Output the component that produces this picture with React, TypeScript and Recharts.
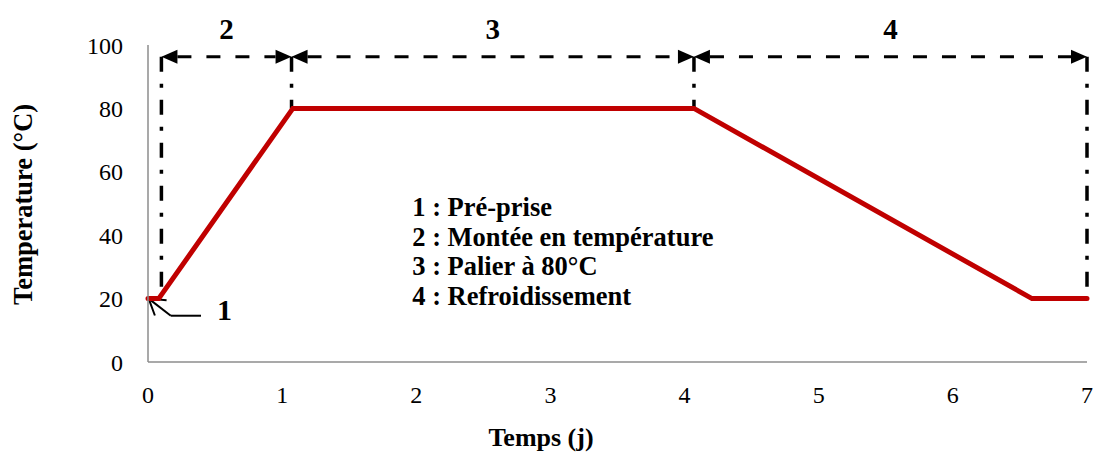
import React from 'react'
import {
  LineChart,
  Line,
  XAxis,
  YAxis,
  ReferenceLine,
  ReferenceDot,
} from 'recharts'

// temperature profile (jours, °C)
const tempsJ = [0, 0.08, 1.08, 4.07, 6.59, 7]
const temperature = [20, 20, 80, 80, 20, 20]

const xTicks = [0, 1, 2, 3, 4, 5, 6, 7]
const yTicks = [0, 20, 40, 60, 80, 100]

// phase limits and the dimension arrows above them
const phaseBounds = [0.1, 1.07, 4.07, 7]
const phaseBottoms = [20, 80, 80, 20]
const phaseLabels = ['2', '3', '4']
const arrowLevel = 96.3

// arrow pointing at the "pré-prise" point
const preTip = { x: 0.005, y: 20 }
const preBend = { x: 0.17, y: 14.6 }
const preTail = { x: 0.395, y: 14.6 }
const preLabel = '1'

const legendLines = [
  '1 : Pré-prise',
  '2 : Montée en température',
  '3 : Palier à 80°C',
  '4 : Refroidissement',
]

const data = tempsJ.map((x, i) => ({ x, temp: temperature[i] }))

const FONT = '"Liberation Serif", "Times New Roman", serif'
const RED = '#C00000'

const dimensionArrow = (label: string) => (p: any) => {
  const { x1, y1, x2 } = p
  const head = 16
  const half = 7
  return (
    <g>
      <line
        x1={x1 + head}
        y1={y1}
        x2={x2 - head}
        y2={y1}
        stroke="#000"
        strokeWidth={3}
        strokeDasharray="14 15"
      />
      <polygon points={`${x1},${y1} ${x1 + head},${y1 - half} ${x1 + head},${y1 + half}`} fill="#000" />
      <polygon points={`${x2},${y1} ${x2 - head},${y1 - half} ${x2 - head},${y1 + half}`} fill="#000" />
      <text
        x={(x1 + x2) / 2}
        y={y1 - 18}
        textAnchor="middle"
        fontFamily={FONT}
        fontWeight="bold"
        fontSize={29}
        fill="#000"
      >
        {label}
      </text>
    </g>
  )
}

// line from bend to tip with an open arrow head at the tip
const pointerShape = (p: any) => {
  const { x1, y1, x2, y2 } = p
  const ang = Math.atan2(y1 - y2, x1 - x2)
  const len = 18
  const spread = 0.56
  const a1 = ang - spread
  const a2 = ang + spread
  return (
    <g>
      <line x1={x1} y1={y1} x2={x2} y2={y2} stroke="#000" strokeWidth={2} />
      <polyline
        points={`${x2 + len * Math.cos(a1)},${y2 + len * Math.sin(a1)} ${x2},${y2} ${x2 + len * Math.cos(a2)},${y2 + len * Math.sin(a2)}`}
        fill="none"
        stroke="#000"
        strokeWidth={2}
      />
    </g>
  )
}

const tailShape = (p: any) => {
  const { x1, y1, x2, y2 } = p
  return (
    <g>
      <line x1={x1} y1={y1} x2={x2} y2={y2} stroke="#000" strokeWidth={2} />
      <text
        x={Math.max(x1, x2) + 16}
        y={y1 + 4}
        fontFamily={FONT}
        fontWeight="bold"
        fontSize={30}
        fill="#000"
      >
        {preLabel}
      </text>
    </g>
  )
}

const legendShape = (p: any) => {
  const { cx, cy } = p
  return (
    <g>
      {legendLines.map((t, i) => (
        <text
          key={t}
          x={cx}
          y={cy + i * 29.5}
          fontFamily={FONT}
          fontWeight="bold"
          fontSize={26.5}
          fill="#000"
        >
          {t}
        </text>
      ))}
    </g>
  )
}

export default function App() {
  return (
    <div style={{ position: 'absolute', left: 0, top: 0, background: '#fff' }}>
      <LineChart
        width={1094}
        height={452}
        data={data}
        margin={{ top: 45, right: 7, left: 0, bottom: 0 }}
      >
        <XAxis
          type="number"
          dataKey="x"
          domain={[0, 7]}
          ticks={xTicks}
          height={90}
          tickSize={0}
          tickMargin={24}
          tickLine={false}
          axisLine={{ stroke: '#8c8c8c', strokeWidth: 1.5 }}
          tick={{ fill: '#000', fontSize: 24, fontFamily: FONT }}
          label={{
            content: () => (
              <text
                x={541}
                y={446}
                textAnchor="middle"
                fontFamily={FONT}
                fontWeight="bold"
                fontSize={26}
                fill="#000"
              >
                Temps (j)
              </text>
            ),
          }}
        />
        <YAxis
          type="number"
          domain={[0, 100]}
          ticks={yTicks}
          width={148}
          tickSize={0}
          tickMargin={25}
          tickLine={false}
          axisLine={{ stroke: '#8c8c8c', strokeWidth: 1.5 }}
          tick={{ fill: '#000', fontSize: 24, fontFamily: FONT }}
          label={{
            content: (props: any) => {
              const vb = props.viewBox || { x: 0, y: 45, height: 317 }
              const cx = 32
              const cy = vb.y + vb.height / 2 + 1
              return (
                <text
                  x={cx}
                  y={cy}
                  transform={`rotate(-90 ${cx} ${cy})`}
                  textAnchor="middle"
                  fontFamily={FONT}
                  fontWeight="bold"
                  fontSize={26.5}
                  fill="#000"
                >
                  Temperature (°C)
                </text>
              )
            },
          }}
        />
        {phaseBounds.map((b, i) => (
          <ReferenceLine
            key={'v' + i}
            segment={[
              { x: b, y: arrowLevel },
              { x: b, y: phaseBottoms[i] },
            ]}
            ifOverflow="visible"
            stroke="#000"
            strokeWidth={3.5}
            strokeDasharray="15 12 4 12"
          />
        ))}
        {phaseLabels.map((lab, i) => (
          <ReferenceLine
            key={'a' + i}
            segment={[
              { x: phaseBounds[i], y: arrowLevel },
              { x: phaseBounds[i + 1], y: arrowLevel },
            ]}
            ifOverflow="visible"
            shape={dimensionArrow(lab)}
          />
        ))}
        <ReferenceLine
          segment={[preBend, preTip]}
          ifOverflow="visible"
          shape={pointerShape}
        />
        <ReferenceLine
          segment={[preBend, preTail]}
          ifOverflow="visible"
          shape={tailShape}
        />
        <ReferenceDot x={1.97} y={46} ifOverflow="visible" shape={legendShape} />
        <Line
          type="linear"
          dataKey="temp"
          stroke={RED}
          strokeWidth={5}
          strokeLinecap="round"
          dot={false}
          activeDot={false}
          isAnimationActive={false}
        />
      </LineChart>
    </div>
  )
}
